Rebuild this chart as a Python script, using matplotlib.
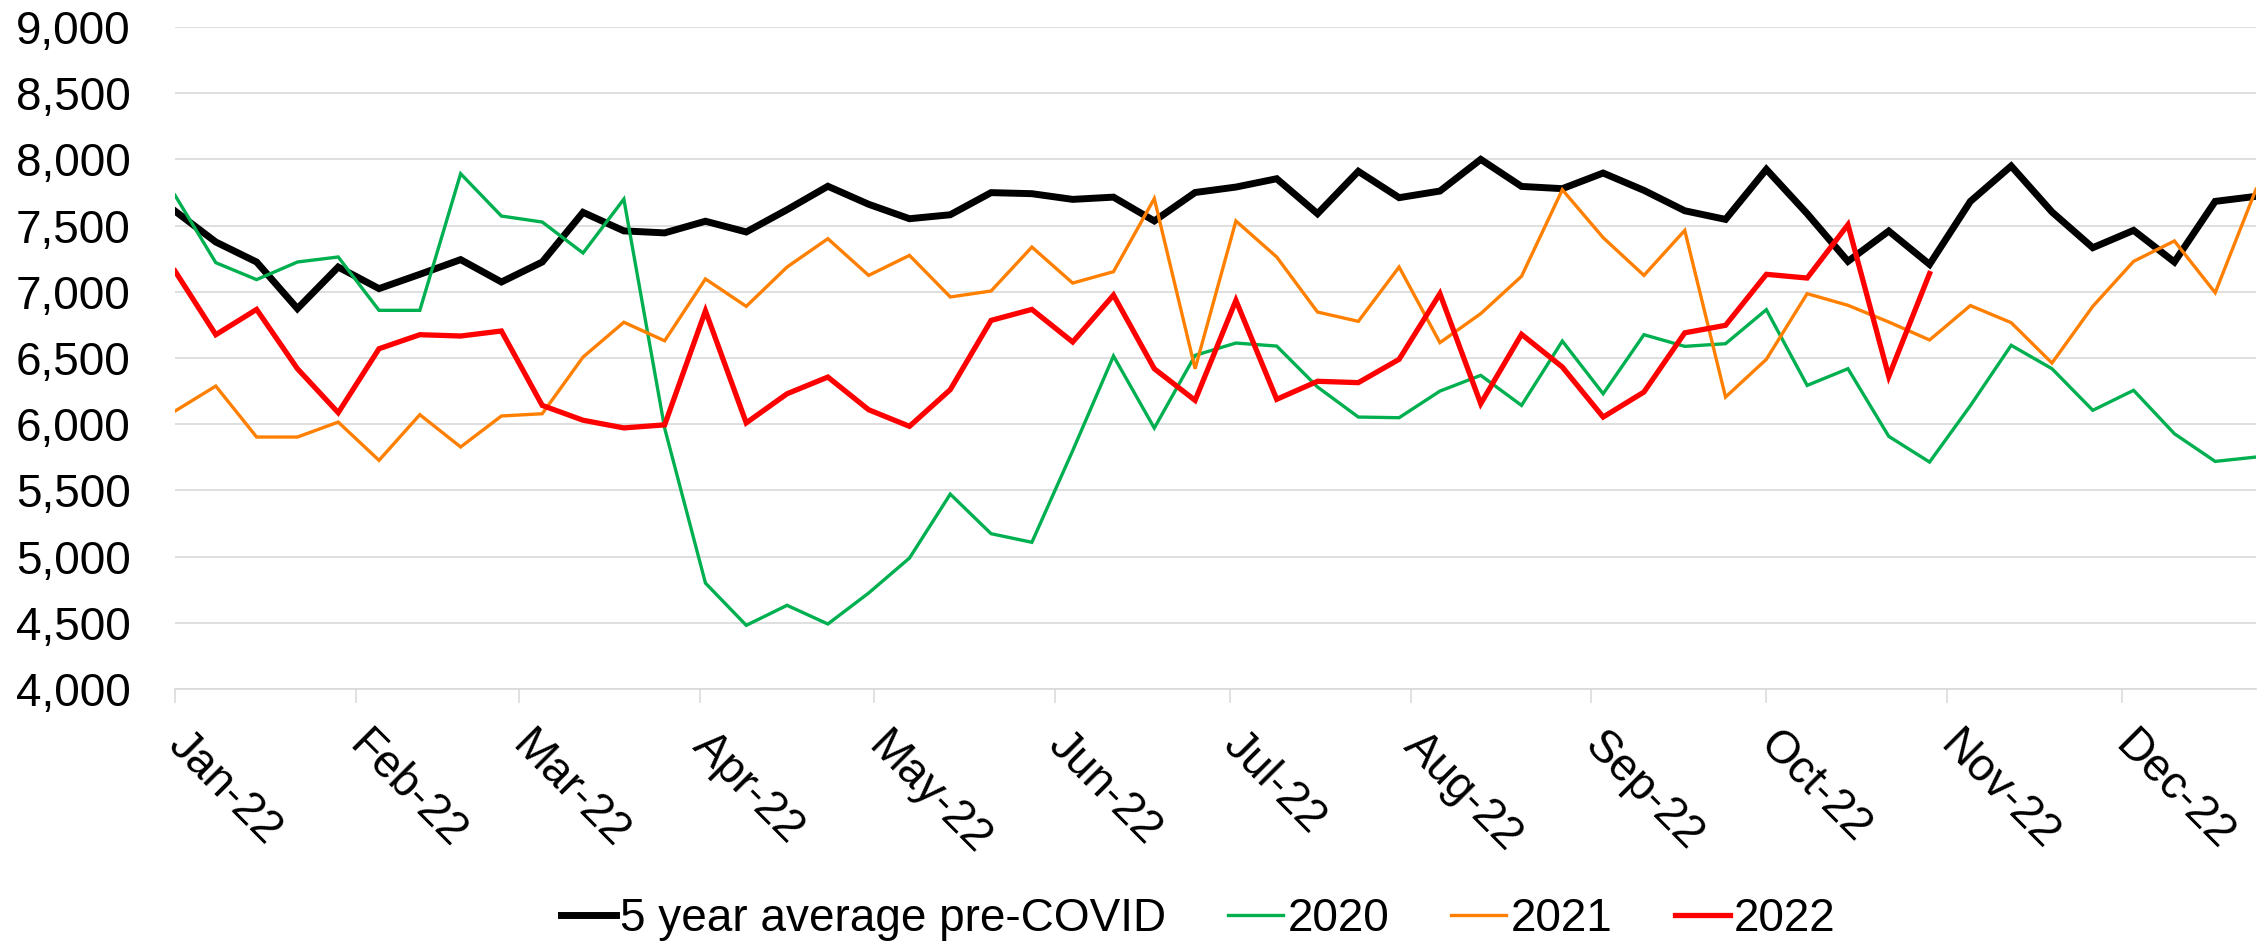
import numpy as np
import pandas as pd
import matplotlib
matplotlib.use("Agg")
import matplotlib.pyplot as plt
import matplotlib.dates as mdates
from matplotlib.ticker import FuncFormatter, MultipleLocator

# weekly values, week 1 starts 1 Jan 2022
week_start = "2022-01-01"
n_weeks = 52

avg_pre_covid = [7610, 7376, 7225, 6873, 7187, 7024, 7132, 7243, 7074, 7225,
                 7600, 7460, 7445, 7533, 7452, 7620, 7797, 7661, 7552, 7582,
                 7749, 7741, 7698, 7715, 7535, 7750, 7791, 7854, 7590, 7910,
                 7711, 7761, 8000, 7796, 7779, 7897, 7766, 7612, 7547, 7925,
                 7590, 7230, 7459, 7207, 7683, 7950, 7603, 7333, 7464, 7225,
                 7683, 7721]

y2020 = [7729, 7220, 7092, 7225, 7263, 6860, 6860, 7892, 7572, 7527,
         7293, 7700, 5970, 4800, 4481, 4632, 4491, 4725, 4989, 5472,
         5173, 5108, 5800, 6515, 5971, 6520, 6613, 6590, 6281, 6054,
         6049, 6250, 6369, 6142, 6628, 6230, 6676, 6588, 6608, 6865,
         6293, 6419, 5908, 5714, 6140, 6596, 6419, 6105, 6256, 5928,
         5719, 5752]

y2021 = [6099, 6288, 5903, 5903, 6016, 5727, 6072, 5828, 6062, 6079,
         6507, 6770, 6630, 7097, 6890, 7187, 7401, 7124, 7275, 6961,
         7006, 7338, 7066, 7152, 7704, 6419, 7535, 7263, 6847, 6777,
         7187, 6616, 6835, 7117, 7771, 7409, 7124, 7464, 6205, 6490,
         6986, 6898, 6772, 6636, 6896, 6767, 6462, 6890, 7230, 7384,
         6993, 7774]

# 2022 only runs to the end of October
y2022 = [7157, 6676, 6867, 6419, 6087, 6570, 6676, 6666, 6704, 6142,
         6030, 5972, 5995, 6856, 6010, 6230, 6356, 6109, 5984, 6261,
         6784, 6867, 6621, 6975, 6419, 6180, 6935, 6188, 6324, 6314,
         6490, 6986, 6155, 6679, 6432, 6054, 6243, 6690, 6747, 7132,
         7104, 7507, 6361, 7138]

series_labels = ["5 year average pre-COVID", "2020", "2021", "2022"]
series_colors = ["#000000", "#00B050", "#FF8000", "#FF0000"]
series_widths = [5.0, 2.4, 2.4, 3.8]

grid_color = "#D9D9D9"


def main():
    plt.rcParams["font.family"] = ["Liberation Sans", "DejaVu Sans"]
    fs = 33

    dates = pd.date_range(week_start, periods=n_weeks, freq="7D")
    data = [avg_pre_covid, y2020, y2021, y2022]

    fig = plt.figure(figsize=(22.67, 9.46), dpi=100)
    ax = fig.add_axes([175 / 2267, 1 - 689 / 946, (2256 - 175) / 2267, (689 - 27) / 946])

    for vals, lab, col, lw in zip(data, series_labels, series_colors, series_widths):
        ax.plot(dates[:len(vals)], vals, color=col, lw=lw, label=lab,
                solid_joinstyle="miter", zorder=3)

    ax.set_ylim(4000, 9000)
    ax.set_xlim(dates[0], dates[-1])
    ax.yaxis.set_major_locator(MultipleLocator(500))
    ax.yaxis.set_major_formatter(FuncFormatter(lambda v, p: f"{int(v):,}"))
    ax.grid(axis="y", color=grid_color, lw=1.2, zorder=0)

    ax.xaxis.set_major_locator(mdates.MonthLocator())
    ax.xaxis.set_major_formatter(mdates.DateFormatter("%b-%y"))

    for s in ["top", "right", "left"]:
        ax.spines[s].set_visible(False)
    ax.spines["bottom"].set_color(grid_color)
    ax.spines["bottom"].set_linewidth(1.2)

    ax.tick_params(axis="y", length=0, pad=32, labelsize=fs)
    ax.tick_params(axis="x", length=10, width=1.1, color=grid_color,
                   direction="out", pad=26, labelsize=fs)
    for lbl in ax.get_xticklabels():
        lbl.set_rotation(-45)
        lbl.set_ha("left")
        lbl.set_va("center")
        lbl.set_rotation_mode("anchor")

    fig.legend(loc="center", bbox_to_anchor=(0.5285, 0.029), ncol=4,
               frameon=False, fontsize=fs, handlelength=1.2,
               handletextpad=0.1, columnspacing=1.35)

    fig.savefig("out.png", dpi=100)


if __name__ == "__main__":
    main()
